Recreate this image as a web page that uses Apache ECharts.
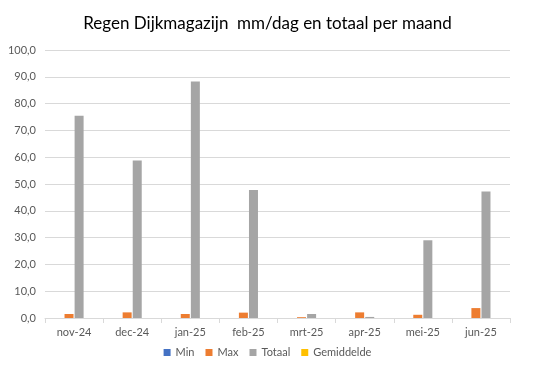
<!DOCTYPE html>
<html><head><meta charset="utf-8">
<script src="https://cdn.jsdelivr.net/npm/echarts@6/dist/echarts.min.js"></script>
<style>html,body{margin:0;padding:0;background:#fff}#c{width:535px;height:375px}</style>
</head><body><div id="c"></div>
<script>
var categories = ['nov-24','dec-24','jan-25','feb-25','mrt-25','apr-25','mei-25','jun-25'];
var minVals = [0, 0, 0, 0, 0, 0, 0, 0];
var maxVals = [1.5, 2.1, 1.5, 2.0, 0.3, 2.1, 1.2, 3.7];
var totaalVals = [75.5, 58.8, 88.2, 47.8, 1.5, 0.4, 29.0, 47.2];
var gemVals = [0, 0, 0, 0, 0, 0, 0, 0];
var yTicks = {min: 0, max: 100, interval: 10};

var font = 'Lato, "Open Sans", sans-serif';
var chart = echarts.init(document.getElementById('c'));
function s(name, data, color){
  return {name:name, type:'bar', data:data, barWidth:9, barGap:'12%', itemStyle:{color:color}};
}
chart.setOption({
  animation:false,
  title:{text:'Regen Dijkmagazijn  mm/dag en totaal per maand', left:'center', top:10,
    textStyle:{fontFamily:font, fontSize:17, fontWeight:'normal', color:'#000'}},
  legend:{bottom:12, left:'center', itemWidth:7, itemHeight:7, itemGap:11, icon:'rect',
    textStyle:{fontFamily:font, fontSize:11, color:'#595959'}},
  grid:{left:45, right:25, top:50, bottom:57},
  xAxis:{type:'category', data:categories,
    axisLine:{lineStyle:{color:'#d9d9d9'}},
    axisTick:{show:true, length:5, lineStyle:{color:'#d9d9d9'}},
    axisLabel:{fontFamily:font, fontSize:11, color:'#595959', margin:9}},
  yAxis:{type:'value', min:yTicks.min, max:yTicks.max, interval:yTicks.interval,
    axisLine:{show:false}, axisTick:{show:false},
    splitLine:{lineStyle:{color:'#d9d9d9'}},
    axisLabel:{fontFamily:font, fontSize:11, color:'#595959', margin:9,
      formatter:function(v){return v.toFixed(1).replace('.', ',');}}},
  series:[s('Min',minVals,'#4472C4'), s('Max',maxVals,'#ED7D31'), s('Totaal',totaalVals,'#A5A5A5'), s('Gemiddelde',gemVals,'#FFC000')]
});
</script></body></html>
